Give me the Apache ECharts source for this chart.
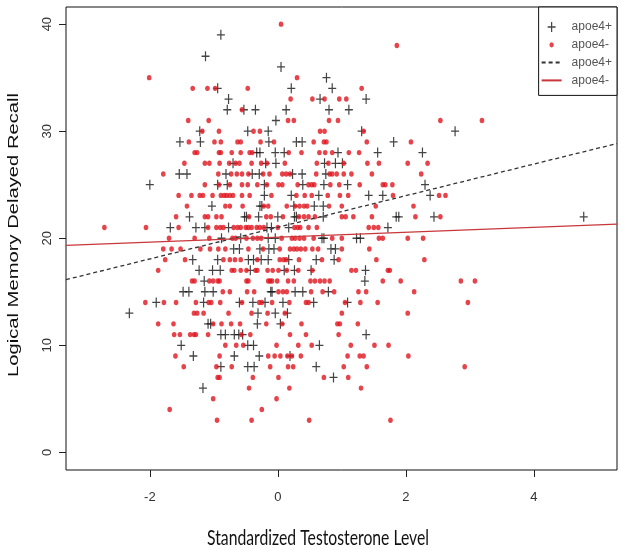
<!DOCTYPE html>
<html>
<head>
<meta charset="utf-8">
<script src="https://cdn.jsdelivr.net/npm/echarts@6/dist/echarts.min.js"></script>
<style>
html,body{margin:0;padding:0;background:#fff;}
#chart{width:624px;height:550px;}
</style>
</head>
<body>
<div id="chart"></div>
<script>
// ---- data (x = standardized testosterone, y = recall score) ----
const apoe4PlusPoints = [
  [-0.89,39],[-1.13,37],[0.05,36],[0.76,35],
  [-0.94,34],[0.21,34],[0.85,34],
  [-0.77,33],[0.66,33],[1.38,33],
  [-0.79,32],[-0.53,32],[-0.35,32],[0.13,32],[0.80,32],[1.11,32],
  [-0.03,31],
  [-1.22,30],[-0.47,30],[-0.15,30],[1.31,30],[2.77,30],
  [-1.53,29],[-1.21,29],[-0.14,29],[0.29,29],[0.38,29],[1.81,29],
  [-0.33,28],[-0.28,28],[-0.04,28],[0.10,28],[0.94,28],[1.56,28],[2.26,28],
  [-0.70,27],[-0.19,27],[-0.03,27],[0.73,27],[0.90,27],[1.01,27],
  [-1.54,26],[-1.42,26],[-0.81,26],[-0.40,26],[-0.29,26],[0.23,26],[0.38,26],[0.75,26],
  [-2.00,25],[-0.94,25],[-0.79,25],[-0.21,25],[0.39,25],[0.72,25],[1.09,25],[2.30,25],
  [-0.21,24],[0.21,24],[0.64,24],[1.42,24],[1.64,24],[2.38,24],
  [-1.03,23],[-0.28,23],[-0.25,23],[0.25,23],[0.57,23],[0.71,23],
  [-1.38,22],[-0.52,22],[-0.49,22],[-0.30,22],[0.00,22],[0.26,22],[0.29,22],[0.71,22],[1.85,22],[1.89,22],[2.44,22],[4.78,22],
  [-1.68,21],[-1.28,21],[-1.14,21],[-0.77,21],[-0.17,21],[-0.10,21],[0.17,21],[1.72,21],
  [-0.88,20],[-0.58,20],[-0.15,20],[-0.04,20],[0.69,20],[0.72,20],[1.23,20],[1.29,20],
  [-0.69,19],[-0.60,19],[-0.28,19],[-0.14,19],[-0.06,19],[0.83,19],[0.90,19],
  [-1.33,18],[-0.94,18],[-0.46,18],[-0.38,18],[-0.26,18],[-0.15,18],[0.17,18],[0.60,18],[0.88,18],
  [-1.23,17],[-1.02,17],[-0.90,17],[-0.43,17],[0.10,17],[0.26,17],[0.52,17],[1.37,17],
  [-1.15,16],[1.36,16],
  [-1.48,15],[-1.39,15],[-1.14,15],[-1.01,15],[-0.11,15],[-0.09,15],[0.27,15],[0.39,15],[0.79,15],
  [-1.90,14],[-1.16,14],[-0.60,14],[-0.39,14],[-0.20,14],[0.08,14],[0.56,14],[1.09,14],
  [-2.32,13],[-0.31,13],[-0.04,13],[0.15,13],
  [-1.09,12],[-1.05,12],[-0.32,12],[0.04,12],
  [-0.89,11],[-0.82,11],[-0.68,11],[-0.61,11],[-0.55,11],[1.38,11],
  [-1.51,10],[-0.47,10],[-0.38,10],[0.65,10],
  [-1.32,9],[-0.68,9],[-0.29,9],[0.19,9],
  [-0.89,8],[-0.47,8],[-0.37,8],[0.60,8],
  [0.87,7],[-1.17,6]
];
const apoe4MinusPoints = [
  [0.05,40],[1.86,38],[-2.01,35],[0.30,35],
  [-1.33,34],[-1.10,34],[-0.98,34],[-0.47,34],[1.31,34],
  [0.20,33],[0.54,33],[0.73,33],[0.96,33],[1.07,33],
  [-0.56,32],
  [-1.40,31],[-1.08,31],[0.16,31],[0.25,31],[0.80,31],[0.94,31],[2.54,31],[3.19,31],
  [-1.18,30],[-0.92,30],[-0.38,30],[-0.28,30],[0.66,30],[0.73,30],[1.34,30],
  [-1.39,29],[-0.99,29],[-0.89,29],[-0.63,29],[-0.58,29],[-0.27,29],[-0.06,29],[0.56,29],[0.72,29],[0.76,29],[1.39,29],[2.08,29],
  [-1.30,28],[-1.26,28],[-0.92,28],[-0.89,28],[-0.72,28],[-0.58,28],[-0.44,28],[-0.40,28],[0.17,28],[0.37,28],[0.65,28],[0.74,28],[0.85,28],[1.11,28],[1.27,28],
  [-1.46,27],[-1.14,27],[-1.07,27],[-0.91,27],[-0.76,27],[-0.66,27],[-0.60,27],[-0.41,27],[-0.26,27],[-0.17,27],[0.11,27],[0.61,27],[0.79,27],[1.03,27],[1.40,27],[1.58,27],[2.03,27],[2.34,27],
  [-1.79,26],[-0.93,26],[-0.73,26],[-0.64,26],[-0.56,26],[-0.46,26],[-0.23,26],[-0.13,26],[0.07,26],[0.13,26],[0.19,26],[0.60,26],[0.81,26],[0.85,26],[0.92,26],[1.03,26],[1.15,26],[1.47,26],[2.24,26],
  [-1.14,25],[-0.92,25],[-0.75,25],[-0.56,25],[-0.47,25],[-0.32,25],[-0.17,25],[0.01,25],[0.07,25],[0.31,25],[0.48,25],[0.53,25],[0.57,25],[0.82,25],[0.96,25],[1.28,25],[1.64,25],[1.68,25],[1.79,25],
  [-1.55,24],[-1.35,24],[-1.22,24],[-1.17,24],[-1.02,24],[-0.89,24],[-0.84,24],[-0.80,24],[-0.75,24],[-0.70,24],[-0.56,24],[-0.44,24],[-0.10,24],[0.29,24],[0.42,24],[0.53,24],[0.78,24],[0.97,24],[1.10,24],[1.80,24],[2.52,24],[2.62,24],
  [-1.42,23],[-0.82,23],[-0.75,23],[-0.55,23],[-0.22,23],[-0.15,23],[0.14,23],[0.27,23],[0.34,23],[0.41,23],[0.46,23],[0.80,23],[1.00,23],[1.53,23],[2.12,23],
  [-1.59,22],[-1.14,22],[-1.09,22],[-0.96,22],[-0.88,22],[-0.45,22],[-0.18,22],[-0.11,22],[0.08,22],[0.33,22],[0.41,22],[0.48,22],[0.58,22],[1.00,22],[1.06,22],[1.18,22],[1.47,22],[2.15,22],[2.54,22],
  [-2.71,21],[-2.06,21],[-1.55,21],[-1.09,21],[-0.96,21],[-0.90,21],[-0.85,21],[-0.69,21],[-0.63,21],[-0.58,21],[-0.50,21],[-0.46,21],[-0.41,21],[-0.33,21],[-0.28,21],[-0.22,21],[0.00,21],[0.26,21],[0.31,21],[0.35,21],[0.48,21],[0.61,21],[1.42,21],[1.50,21],[1.57,21],
  [-1.70,20],[-1.30,20],[-1.07,20],[-0.71,20],[-0.66,20],[-0.49,20],[-0.39,20],[-0.32,20],[-0.26,20],[0.06,20],[0.22,20],[0.27,20],[0.34,20],[0.41,20],[0.56,20],[0.85,20],[1.00,20],[1.58,20],[1.64,20],[2.03,20],[2.27,20],
  [-1.79,19],[-1.66,19],[-1.52,19],[-1.21,19],[-1.06,19],[-0.93,19],[-0.82,19],[-0.46,19],[-0.23,19],[0.03,19],[0.19,19],[0.25,19],[0.30,19],[0.36,19],[0.43,19],[0.54,19],[0.63,19],[1.00,19],[1.43,19],
  [-1.76,18],[-1.45,18],[-0.85,18],[-0.75,18],[-0.67,18],[-0.58,18],[-0.32,18],[0.03,18],[0.09,18],[0.13,18],[0.33,18],[0.69,18],[0.95,18],[1.54,18],[2.29,18],
  [-1.87,17],[-0.72,17],[-0.68,17],[-0.58,17],[-0.49,17],[-0.35,17],[-0.32,17],[-0.16,17],[-0.08,17],[0.01,17],[0.14,17],[0.32,17],[0.54,17],[1.15,17],[1.22,17],[1.72,17],[1.75,17],
  [-1.34,16],[-1.30,16],[-1.07,16],[-1.01,16],[-0.94,16],[-0.91,16],[-0.49,16],[-0.46,16],[-0.15,16],[-0.12,16],[-0.09,16],[-0.01,16],[0.16,16],[0.25,16],[0.51,16],[0.58,16],[0.66,16],[0.73,16],[0.81,16],[1.64,16],[1.92,16],[2.86,16],[3.08,16],
  [-0.86,15],[-0.75,15],[-0.48,15],[-0.37,15],[0.01,15],[0.08,15],[0.14,15],[0.52,15],[0.70,15],[0.88,15],[1.26,15],[1.38,15],[2.13,15],
  [-2.07,14],[-1.78,14],[-1.59,14],[-1.28,14],[-1.08,14],[-1.04,14],[-0.90,14],[-0.56,14],[-0.29,14],[-0.25,14],[-0.09,14],[0.18,14],[0.44,14],[0.48,14],[1.05,14],[1.29,14],[1.56,14],[2.97,14],
  [-1.31,13],[-1.26,13],[-1.16,13],[-0.77,13],[-0.41,13],[-0.16,13],[0.11,13],[1.00,13],[2.03,13],
  [-1.87,12],[-1.63,12],[-1.01,12],[-0.88,12],[-0.73,12],[-0.59,12],[-0.18,12],[0.07,12],[0.37,12],[0.93,12],[0.97,12],[1.25,12],
  [-1.62,11],[-1.53,11],[-1.37,11],[-1.31,11],[-1.28,11],[-1.09,11],[-0.57,11],[-0.43,11],[0.19,11],[0.44,11],[0.95,11],
  [-0.82,10],[-0.65,10],[-0.54,10],[-0.02,10],[0.32,10],[0.53,10],[1.14,10],[1.51,10],[1.73,10],
  [-1.60,9],[-0.91,9],[-0.15,9],[-0.05,9],[0.04,9],[0.15,9],[0.22,9],[0.36,9],[1.09,9],[1.28,9],[1.34,9],[2.04,9],
  [-1.47,8],[-0.96,8],[-0.72,8],[-0.12,8],[0.16,8],[0.24,8],[1.03,8],[1.39,8],[2.92,8],
  [-0.94,7],[-0.91,7],[-0.39,7],[0.01,7],[0.72,7],[1.10,7],
  [-0.45,6],[0.18,6],[1.30,6],
  [-1.01,5],[-0.02,5],
  [-1.69,4],[-0.25,4],
  [-0.95,3],[-0.41,3],[0.49,3],[1.76,3]
];
// fitted regression lines: [intercept, slope]
const fitPlus = [21.02, 1.477];
const fitMinus = [20.10, 0.229];
const xTicks = [-2, 0, 2, 4];
const yTicks = [0, 10, 20, 30, 40];
const seriesNames = ['apoe4+', 'apoe4-', 'apoe4+ ', 'apoe4- '];
const xTitle = 'Standardized Testosterone Level';
const yTitle = 'Logical Memory Delayed Recall';

const xMin = -3.31, xMax = 5.30, yMin = -1.65, yMax = 41.6;
function fitLine(f) { return [[xMin, f[0] + f[1] * xMin], [xMax, f[0] + f[1] * xMax]]; }

// measure text to squeeze titles to the reference's (non-uniformly scaled) proportions
const mctx = document.createElement('canvas').getContext('2d');
function textW(font, s) { mctx.font = font; return mctx.measureText(s).width; }
const xTitleFont = '22px Lato';
const yTitleFont = '14px "Liberation Sans"';
const xTitleScale = 222 / textW(xTitleFont, xTitle);
const yTitleScale = 284 / textW(yTitleFont, yTitle);

const plusPath = 'path://M3.4,0H4.6V4.35H8V5.65H4.6V10H3.4V5.65H0V4.35H3.4Z';
const dotIcon = 'path://M0,0h0.05v0.05h-0.05z M9.95,9.95h0.05v0.05h-0.05z M7.2,5a2.2,2.6 0 1,1 -4.4,0a2.2,2.6 0 1,1 4.4,0z';
const red = '#e0141e';

const chart = echarts.init(document.getElementById('chart'), null, {renderer: 'canvas'});
chart.setOption({
  animation: false,
  backgroundColor: '#fff',
  grid: {left: 66, right: 7, top: 7, bottom: 80, show: true, borderColor: '#111', borderWidth: 1, backgroundColor: 'transparent'},
  legend: {
    orient: 'vertical', right: 7, top: 7,
    backgroundColor: '#fff', borderColor: '#111', borderWidth: 1, borderRadius: 0,
    padding: [14, 5, 9, 2], itemGap: 5.8, itemWidth: 20, itemHeight: 10,
    selectedMode: false,
    textStyle: {color: '#555', fontSize: 12, fontFamily: 'Liberation Sans', padding: [0, 0, 0, 5]},
    formatter: n => n.trim(),
    data: [
      {name: seriesNames[0], icon: plusPath},
      {name: seriesNames[1], icon: dotIcon},
      {name: seriesNames[2], itemStyle: {opacity: 0}},
      {name: seriesNames[3], itemStyle: {opacity: 0}}
    ]
  },
  xAxis: {
    type: 'value', min: xMin, max: xMax,
    axisLine: {show: false, onZero: false}, splitLine: {show: false},
    axisTick: {show: true, length: 7, customValues: xTicks, lineStyle: {color: '#222'}},
    axisLabel: {customValues: xTicks, margin: 21, fontSize: 13, color: '#333', fontFamily: 'Liberation Sans'}
  },
  yAxis: {
    type: 'value', min: yMin, max: yMax,
    axisLine: {show: false, onZero: false}, splitLine: {show: false},
    axisTick: {show: true, length: 7, customValues: yTicks, lineStyle: {color: '#222'}},
    axisLabel: {customValues: yTicks, rotate: 90, margin: 12, fontSize: 13, color: '#333', fontFamily: 'Liberation Sans'}
  },
  graphic: [
    {type: 'text', x: 318, y: 538, scaleX: xTitleScale, silent: true,
     style: {text: xTitle, font: xTitleFont, fill: '#111', align: 'center', verticalAlign: 'middle'}},
    {type: 'text', x: 14, y: 235, rotation: Math.PI / 2, scaleX: yTitleScale, silent: true,
     style: {text: yTitle, font: yTitleFont, fill: '#111', align: 'center', verticalAlign: 'middle'}}
  ],
  series: [
    {name: seriesNames[0], type: 'scatter', data: apoe4PlusPoints, symbol: plusPath, symbolSize: [8, 10],
     itemStyle: {color: '#151515'}, z: 2, silent: true},
    {name: seriesNames[1], type: 'scatter', data: apoe4MinusPoints, symbol: 'circle', symbolSize: [4.6, 5.4],
     itemStyle: {color: red}, z: 3, silent: true},
    {name: seriesNames[2], type: 'line', data: fitLine(fitPlus), symbol: 'none', color: '#333',
     lineStyle: {color: '#333', width: 1.3, type: [4, 3]}, z: 4, silent: true},
    {name: seriesNames[3], type: 'line', data: fitLine(fitMinus), symbol: 'none', color: '#c8373a',
     lineStyle: {color: '#c8373a', width: 1.3}, z: 4, silent: true}
  ]
});
</script>
</body>
</html>
